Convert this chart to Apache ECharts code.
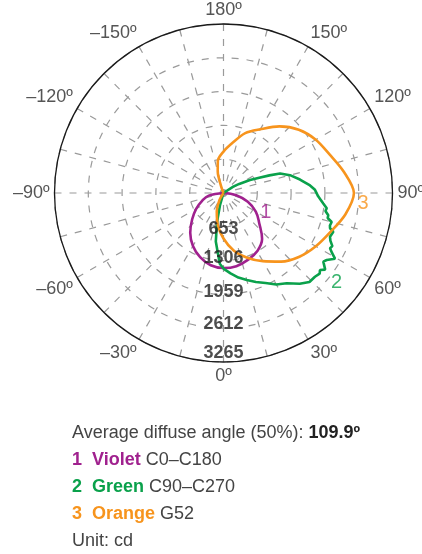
<!DOCTYPE html>
<html>
<head>
<meta charset="utf-8">
<script src="https://cdn.jsdelivr.net/npm/echarts@6/dist/echarts.min.js"></script>
<style>
  html, body { margin: 0; padding: 0; background: #fff; }
  #chart { width: 422px; height: 554px; }
</style>
</head>
<body>
<div id="chart"></div>
<script>
// radial scale (cd)
const radiusTicks = [653, 1306, 1959, 2612, 3265];

// 1 Violet C0-C180
const violetAngles = [-90, -80, -70, -60, -50, -40, -30, -20, -10, 0, 10, 20, 30, 40, 50, 60, 70, 80, 90];
const violetValues = [0, 290, 440, 610, 790, 1000, 1180, 1320, 1418, 1450, 1435, 1375, 1300, 1160, 900, 720, 500, 250, 0];

// 2 Green C90-C270
const greenAngles = [-20, -16, -13, -11, -9, -6, -3, 0, 5, 10, 15, 20, 25, 30, 35, 40, 44, 47.5, 50, 51.4, 53, 54, 55.5, 57, 58, 59.5, 61, 62.6, 64, 66, 67.7, 70.6, 71.7, 73, 75, 76.5, 78, 80, 81.6, 84, 88, 92, 95, 100, 105, 109, 111, 113, 116, 120, 123, 126];
const greenValues = [0, 250, 500, 700, 950, 1120, 1370, 1460, 1560, 1660, 1740, 1830, 1920, 2040, 2130, 2290, 2390, 2396, 2425, 2385, 2460, 2469, 2340, 2377, 2390, 2500, 2400, 2318, 2340, 2260, 2224, 2249, 2168, 2150, 2163, 2070, 2069, 2000, 2016, 1938, 1830, 1768, 1678, 1500, 1330, 1156, 950, 750, 570, 350, 225, 0];

// 3 Orange G52
const orangeAngles = [-35, -30, -20, -10, 0, 10, 20, 30, 40, 50, 60, 70, 80, 90, 100, 110, 120, 130, 140, 150, 160, 170, 180, 190, 195, 200, 202];
const orangeValues = [0, 150, 380, 630, 880, 1130, 1330, 1520, 1730, 1915, 2060, 2200, 2390, 2520, 2360, 2180, 2060, 1900, 1680, 1420, 1230, 980, 800, 630, 430, 130, 0];

const seriesNames = ['Violet', 'Green', 'Orange'];
const seriesPlanes = ['C0\u2013C180', 'C90\u2013C270', 'G52'];
const colors = ['#a0218e', '#0aa14b', '#f7941d'];
const diffuseAngle = '109.9\u00BA';

const toPolar = (angles, values) => angles.map((a, i) => [values[i], a < 0 ? a + 360 : a]);

const chart = echarts.init(document.getElementById('chart'));

const curveLabel = (data, idx, text, color, offset) => ({
  type: 'scatter',
  coordinateSystem: 'polar',
  symbolSize: 1,
  itemStyle: { color: 'rgba(0,0,0,0)' },
  silent: true,
  z: 6,
  data: [data[idx]],
  label: {
    show: true, position: 'inside', formatter: text, color: color,
    fontSize: 20, fontFamily: 'Liberation Sans', offset: offset
  }
});

const violetData = toPolar(violetAngles, violetValues);
const greenData = toPolar(greenAngles, greenValues);
const orangeData = toPolar(orangeAngles, orangeValues);

const tickOffsets = [2, -3, -2, -4, -9];
const gridLine = { color: '#9a9a9a', width: 1.2, type: [7, 8] };
const textFont = '18px "Liberation Sans"';

const option = {
  backgroundColor: '#ffffff',
  animation: false,
  polar: { center: [223.5, 193], radius: 169 },
  angleAxis: {
    type: 'value',
    min: 0, max: 360, interval: 15,
    startAngle: 270,
    clockwise: false,
    axisLine: { lineStyle: { color: '#1a1a1a', width: 1.3 } },
    axisTick: { show: false },
    axisLabel: {
      interval: 1,
      margin: 5,
      color: '#555',
      fontSize: 18,
      fontFamily: 'Liberation Sans',
      formatter: function (v) {
        if (v % 30 !== 0 || v === 360) return '';
        return (v > 180 ? '\u2013' + (360 - v) : v) + '\u00BA';
      }
    },
    splitLine: { show: true, lineStyle: gridLine }
  },
  radiusAxis: {
    min: 0, max: 3265, interval: 653,
    axisLine: { show: false },
    axisTick: { show: false },
    axisLabel: { show: false },
    splitLine: { show: true, lineStyle: gridLine }
  },
  series: [
    {
      type: 'line', coordinateSystem: 'polar', data: violetData,
      showSymbol: false, smooth: 0.4,
      lineStyle: { color: colors[0], width: 2.6 }, z: 3
    },
    {
      type: 'line', coordinateSystem: 'polar', data: greenData,
      showSymbol: false, smooth: false,
      lineStyle: { color: colors[1], width: 2.6 }, z: 3
    },
    {
      type: 'line', coordinateSystem: 'polar', data: orangeData,
      showSymbol: false, smooth: 0.3,
      lineStyle: { color: colors[2], width: 2.6 }, z: 3
    },
    {
      type: 'scatter', coordinateSystem: 'polar',
      symbolSize: 1, itemStyle: { color: 'rgba(0,0,0,0)' }, silent: true, z: 5,
      data: radiusTicks.map((v, i) => ({
        value: [v, 0],
        label: { offset: [0, tickOffsets[i]] }
      })),
      label: {
        show: true, position: 'inside',
        formatter: p => String(p.value[0]),
        color: '#222', fontSize: 18, fontWeight: 'bold', fontFamily: 'Liberation Sans'
      }
    },
    curveLabel(violetData, 15, '1', colors[0], [10, 1]),
    curveLabel(greenData, 18, '2', colors[1], [17, 9]),
    curveLabel(orangeData, 13, '3', colors[2], [9, 10])
  ],
  graphic: [
    {
      type: 'text', x: 72, y: 433,
      style: {
        text: 'Average diffuse angle (50%): {b|' + diffuseAngle + '}',
        fill: '#444', font: textFont, verticalAlign: 'middle',
        rich: { b: { fontWeight: 'bold', fill: '#222', fontSize: 18, fontFamily: 'Liberation Sans' } }
      }
    }
  ].concat(seriesNames.map((name, i) => ({
    type: 'text', x: 72, y: 460 + i * 27,
    style: {
      text: '{n|' + (i + 1) + '  ' + name + '} ' + seriesPlanes[i],
      fill: '#444', font: textFont, verticalAlign: 'middle',
      rich: { n: { fontWeight: 'bold', fill: colors[i], fontSize: 18, fontFamily: 'Liberation Sans' } }
    }
  }))).concat([
    {
      type: 'text', x: 72, y: 541,
      style: { text: 'Unit: cd', fill: '#444', font: textFont, verticalAlign: 'middle' }
    }
  ])
};

chart.setOption(option);
</script>
</body>
</html>
